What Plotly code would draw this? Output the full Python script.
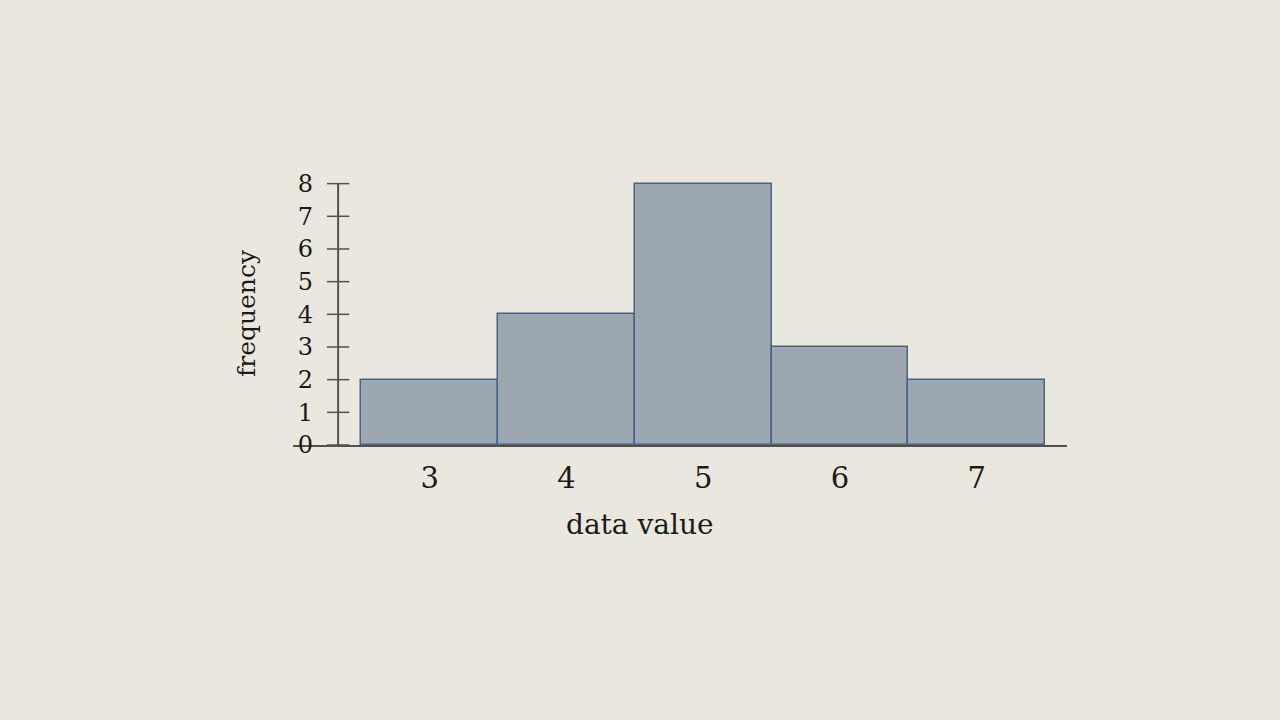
import plotly.graph_objects as go

# histogram data
values = [3, 4, 5, 6, 7]
counts = [2, 4, 8, 3, 2]
yticks = [0, 1, 2, 3, 4, 5, 6, 7, 8]

bg = '#EAE8DE'
axis_col = '#555049'
font_fam = 'DejaVu Serif'

fig = go.Figure()
fig.add_trace(go.Bar(
    x=values,
    y=counts,
    width=1,
    marker=dict(color='#9DA7B0', line=dict(color='#4A6285', width=1.5)),
    cliponaxis=False,
    showlegend=False,
    hoverinfo='skip',
))

# y axis drawn at x = 2.33 with ticks crossing the line
y_axis_x = 2.33
fig.add_trace(go.Scatter(
    x=[y_axis_x] * len(yticks),
    y=yticks,
    mode='markers',
    marker=dict(symbol='line-ew', size=16, line=dict(color=axis_col, width=1.5)),
    cliponaxis=False,
    showlegend=False,
    hoverinfo='skip',
))
fig.add_shape(type='line', xref='x', yref='y', x0=y_axis_x, x1=y_axis_x, y0=0, y1=8,
              line=dict(color=axis_col, width=2), layer='below')

# x title centred on the page rather than the plot area
fig.add_annotation(text='data value', xref='paper', yref='paper', x=0.4483, y=-0.3027,
                   xanchor='center', yanchor='middle', showarrow=False,
                   font=dict(size=28, family=font_fam, color='#1a1a1a'))

fig.update_layout(
    width=1280,
    height=720,
    paper_bgcolor=bg,
    plot_bgcolor=bg,
    margin=dict(l=293, r=213, t=182, b=275),
    bargap=0,
    font=dict(family=font_fam, color='#1a1a1a'),
    xaxis=dict(
        range=[2.0, 7.66],
        tickvals=values,
        showgrid=False,
        zeroline=False,
        showline=True,
        linecolor=axis_col,
        linewidth=2,
        ticks='',
        tickfont=dict(size=29),
        ticklabelstandoff=6,
    ),
    yaxis=dict(
        range=[0, 8.05],
        tickvals=yticks,
        showgrid=False,
        zeroline=False,
        showline=False,
        ticks='',
        anchor='free',
        position=0.0581,
        tickfont=dict(size=24),
        ticklabelstandoff=25,
        title=dict(text='frequency', font=dict(size=25), standoff=33),
    ),
)

fig.write_html("out.html", config={'displayModeBar': False},
               post_script="document.body.style.margin='0';document.body.style.background='#EAE8DE';")
